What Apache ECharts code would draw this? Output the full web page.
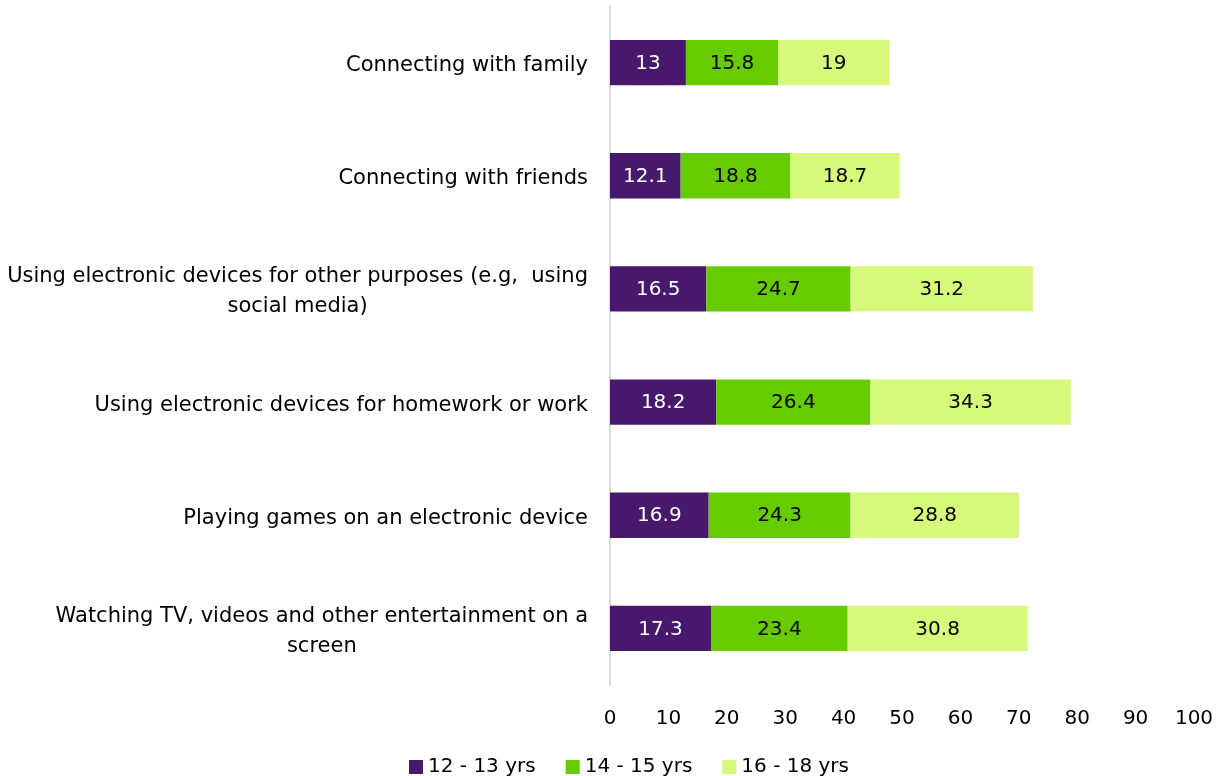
<!DOCTYPE html>
<html>
<head>
<meta charset="utf-8">
<script src="https://cdn.jsdelivr.net/npm/echarts@6/dist/echarts.min.js"></script>
<style>
  html, body { margin: 0; padding: 0; background: #ffffff; }
  #chart { width: 1222px; height: 776px; }
</style>
</head>
<body>
<div id="chart"></div>
<script>
// Activities, listed top to bottom
const categories = [
  'Connecting with family',
  'Connecting with friends',
  'Using electronic devices for other purposes (e.g,  using\nsocial media)',
  'Using electronic devices for homework or work',
  'Playing games on an electronic device',
  'Watching TV, videos and other entertainment on a\nscreen'
];
const seriesNames = ['12 - 13 yrs', '14 - 15 yrs', '16 - 18 yrs'];
const age12to13 = [13, 12.1, 16.5, 18.2, 16.9, 17.3];
const age14to15 = [15.8, 18.8, 24.7, 26.4, 24.3, 23.4];
const age16to18 = [19, 18.7, 31.2, 34.3, 28.8, 30.8];
const xTicks = [0, 10, 20, 30, 40, 50, 60, 70, 80, 90, 100];

const FONT = 'DejaVu Sans';
const colors = ['#47186b', '#66cc00', '#d6f87b'];
const labelColors = ['#ffffff', '#000000', '#000000'];
const values = [age12to13, age14to15, age16to18];

const chart = echarts.init(document.getElementById('chart'), null, { renderer: 'canvas' });

const series = seriesNames.map((name, i) => ({
  name: name,
  type: 'bar',
  stack: 'total',
  barWidth: '40%',
  data: values[i],
  itemStyle: { color: colors[i] },
  label: {
    show: true,
    position: 'inside',
    color: labelColors[i],
    fontFamily: FONT,
    fontSize: 20,
    offset: [0, 1]
  },
  emphasis: { disabled: true }
}));

chart.setOption({
  animation: false,
  backgroundColor: '#ffffff',
  textStyle: { fontFamily: FONT },
  grid: { left: 610, right: 28, top: 6, bottom: 91, containLabel: false },
  legend: {
    data: seriesNames,
    top: 752,
    left: 404,
    itemWidth: 14,
    itemHeight: 14,
    itemGap: 30,
    icon: 'rect',
    textStyle: { fontFamily: FONT, fontSize: 20, color: '#000000' }
  },
  xAxis: {
    type: 'value',
    min: xTicks[0],
    max: xTicks[xTicks.length - 1],
    interval: xTicks[1] - xTicks[0],
    axisLine: { show: false },
    axisTick: { show: false },
    splitLine: { show: false },
    axisLabel: {
      color: '#000000',
      fontFamily: FONT,
      fontSize: 20,
      margin: 24
    }
  },
  yAxis: {
    type: 'category',
    inverse: true,
    data: categories,
    axisLine: { show: true, lineStyle: { color: '#d9d9d9', width: 2 } },
    axisTick: { show: false },
    axisLabel: {
      margin: 22,
      align: 'right',
      lineHeight: 30,
      padding: [6, 0, 0, 0],
      formatter: function (v) {
        return v.split('\n').map(l => '{c|' + l + '}').join('\n');
      },
      rich: {
        c: { align: 'center', fontFamily: FONT, fontSize: 21, color: '#000000', lineHeight: 30 }
      }
    }
  },
  series: series
});
</script>
</body>
</html>
